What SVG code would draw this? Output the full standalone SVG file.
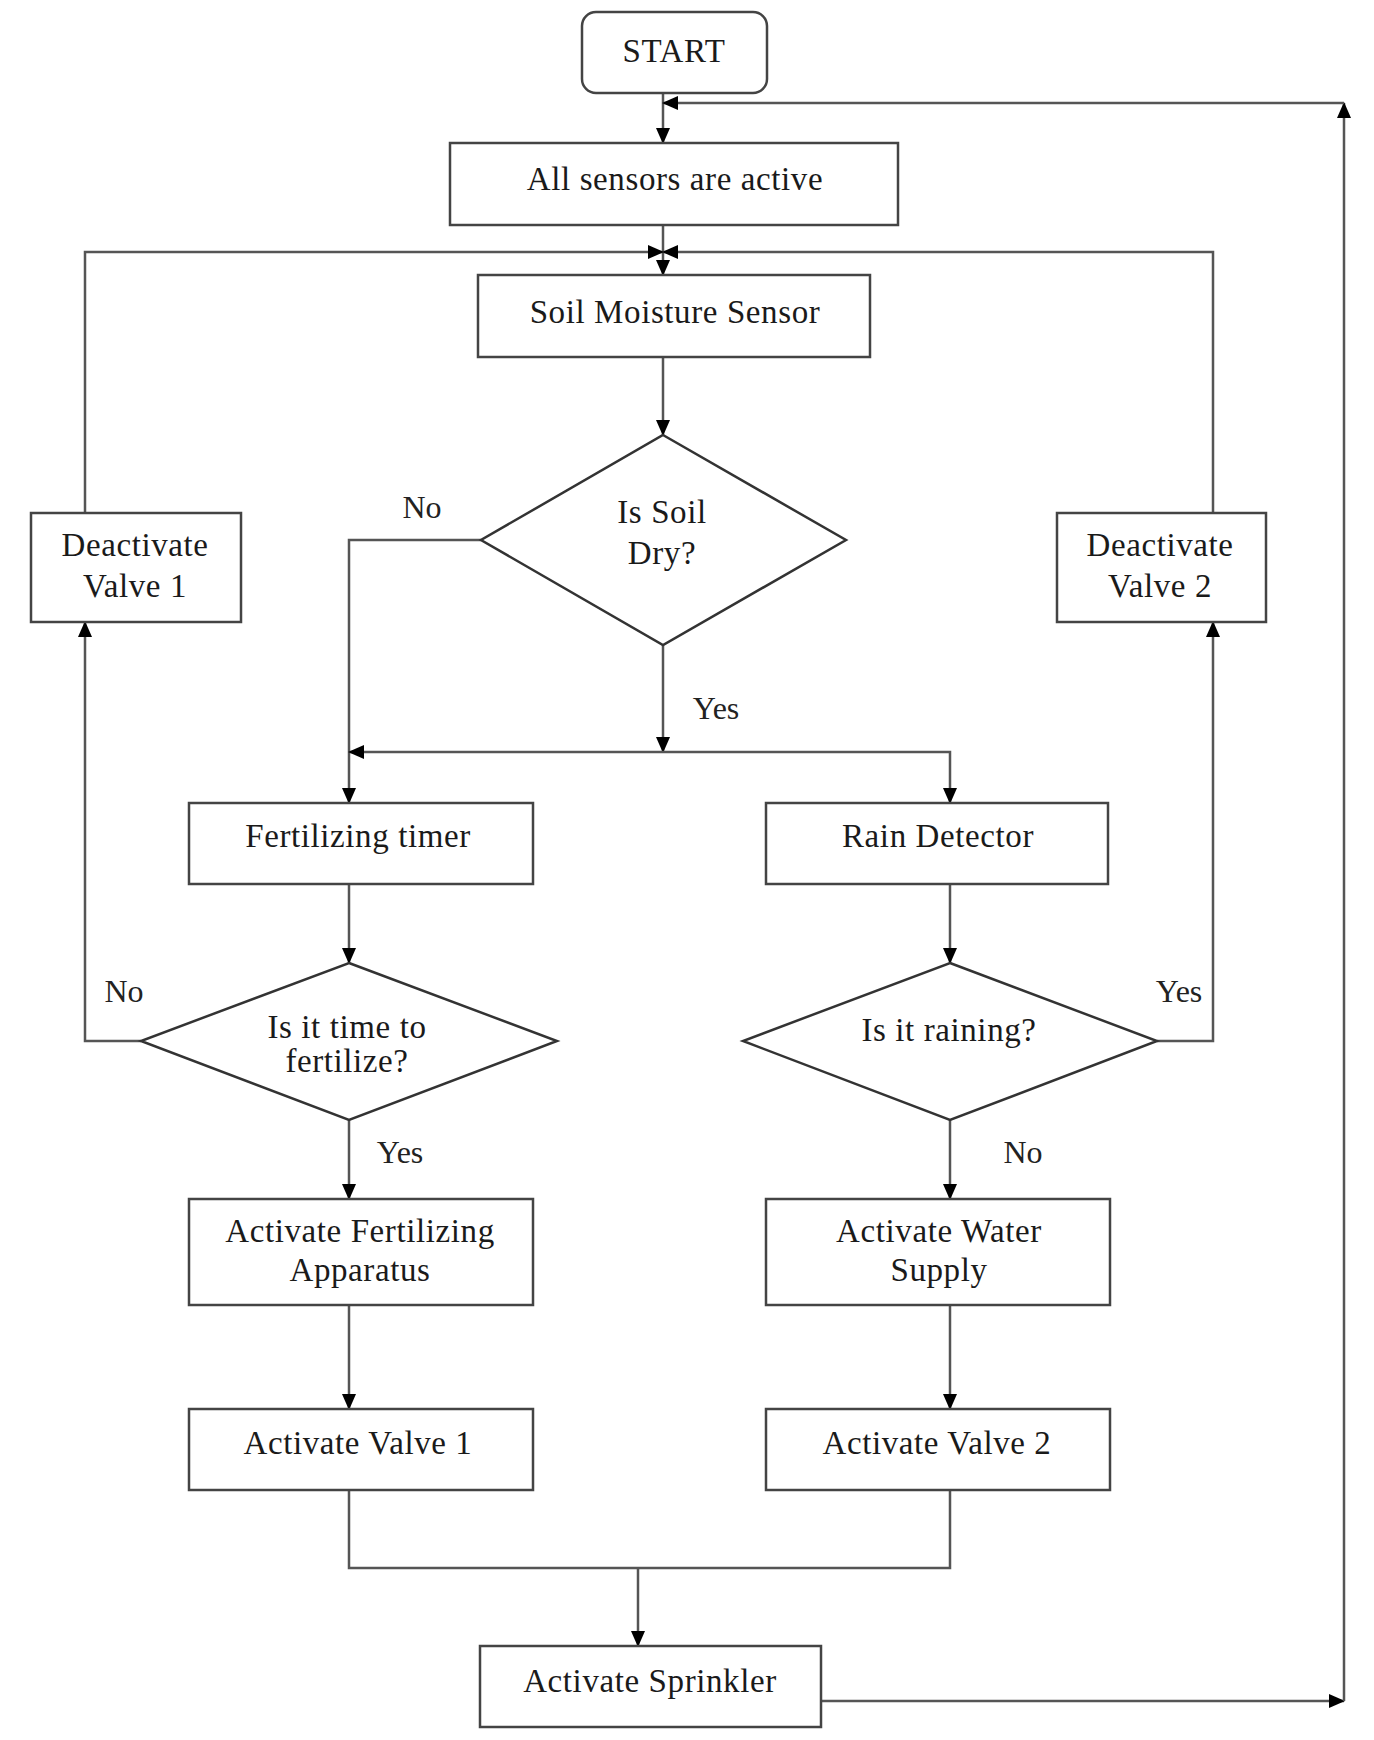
<svg xmlns="http://www.w3.org/2000/svg" width="1374" height="1740" viewBox="0 0 1374 1740">
  <style>
    .box { fill: #ffffff; stroke: #444444; stroke-width: 2.5; }
    .dia { fill: #ffffff; stroke: #333333; stroke-width: 2.5; }
    .wire { fill: none; stroke: #555555; stroke-width: 2.5; }
    .t { font-family: "Liberation Serif", "Times New Roman", serif; font-size: 33px; letter-spacing: 0.6px; fill: #1a1a1a; text-anchor: middle; }
    .lbl { font-family: "Liberation Serif", "Times New Roman", serif; font-size: 32px; fill: #222222; text-anchor: middle; }
  </style>
  <defs>
    <marker id="arrow" markerUnits="userSpaceOnUse" markerWidth="16" markerHeight="14" refX="15" refY="7" orient="auto">
      <path d="M0,0 L16,7 L0,14 Z" fill="#000000"/>
    </marker>
  </defs>
  <rect width="1374" height="1740" fill="#ffffff"/>

  <g id="connectors">
    <path class="wire" d="M663,93 V143" marker-end="url(#arrow)"/>
    <path class="wire" d="M822,1701 H1344" marker-end="url(#arrow)"/>
    <path class="wire" d="M1344,1701 V103" marker-end="url(#arrow)"/>
    <path class="wire" d="M1344,103 H663" marker-end="url(#arrow)"/>
    <path class="wire" d="M663,225 V275" marker-end="url(#arrow)"/>
    <path class="wire" d="M85,513 V252 H663" marker-end="url(#arrow)"/>
    <path class="wire" d="M1213,513 V252 H663" marker-end="url(#arrow)"/>
    <path class="wire" d="M663,357 V435" marker-end="url(#arrow)"/>
    <path class="wire" d="M481,540 H349 V803" marker-end="url(#arrow)"/>
    <path class="wire" d="M663,645 V752" marker-end="url(#arrow)"/>
    <path class="wire" d="M663,752 H349" marker-end="url(#arrow)"/>
    <path class="wire" d="M663,752 H950 V803" marker-end="url(#arrow)"/>
    <path class="wire" d="M349,884 V963" marker-end="url(#arrow)"/>
    <path class="wire" d="M950,884 V963" marker-end="url(#arrow)"/>
    <path class="wire" d="M141,1041 H85 V622" marker-end="url(#arrow)"/>
    <path class="wire" d="M1157,1041 H1213 V622" marker-end="url(#arrow)"/>
    <path class="wire" d="M349,1120 V1199" marker-end="url(#arrow)"/>
    <path class="wire" d="M950,1120 V1199" marker-end="url(#arrow)"/>
    <path class="wire" d="M349,1305 V1409" marker-end="url(#arrow)"/>
    <path class="wire" d="M950,1305 V1409" marker-end="url(#arrow)"/>
    <path class="wire" d="M349,1490 V1568 H950 V1490"/>
    <path class="wire" d="M638,1568 V1646" marker-end="url(#arrow)"/>
    <text class="lbl" x="422" y="518">No</text>
    <text class="lbl" x="716" y="719">Yes</text>
    <text class="lbl" x="124" y="1002">No</text>
    <text class="lbl" x="1179" y="1002">Yes</text>
    <text class="lbl" x="400" y="1163">Yes</text>
    <text class="lbl" x="1023" y="1163">No</text>
  </g>

  <g id="start">
    <rect class="box" x="582" y="12" width="185" height="81" rx="14"/>
    <text class="t" x="674" y="62">START</text>
  </g>
  <g id="sensors-active">
    <rect class="box" x="450" y="143" width="448" height="82"/>
    <text class="t" x="675" y="190">All sensors are active</text>
  </g>
  <g id="soil-moisture-sensor">
    <rect class="box" x="478" y="275" width="392" height="82"/>
    <text class="t" x="675" y="323">Soil Moisture Sensor</text>
  </g>
  <g id="is-soil-dry">
    <polygon class="dia" points="663,435 846,540 663,645 481,540"/>
    <text class="t" x="662" y="523">Is Soil</text>
    <text class="t" x="662" y="564">Dry?</text>
  </g>
  <g id="deactivate-valve-1">
    <rect class="box" x="31" y="513" width="210" height="109"/>
    <text class="t" x="135" y="556">Deactivate</text>
    <text class="t" x="135" y="597">Valve 1</text>
  </g>
  <g id="deactivate-valve-2">
    <rect class="box" x="1057" y="513" width="209" height="109"/>
    <text class="t" x="1160" y="556">Deactivate</text>
    <text class="t" x="1160" y="597">Valve 2</text>
  </g>
  <g id="fertilizing-timer">
    <rect class="box" x="189" y="803" width="344" height="81"/>
    <text class="t" x="358" y="847">Fertilizing timer</text>
  </g>
  <g id="rain-detector">
    <rect class="box" x="766" y="803" width="342" height="81"/>
    <text class="t" x="938" y="847">Rain Detector</text>
  </g>
  <g id="time-to-fertilize">
    <polygon class="dia" points="349,963 557,1041 349,1120 141,1041"/>
    <text class="t" x="347" y="1038">Is it time to</text>
    <text class="t" x="347" y="1072">fertilize?</text>
  </g>
  <g id="is-it-raining">
    <polygon class="dia" points="950,963 1157,1041 950,1120 743,1041"/>
    <text class="t" x="949" y="1041">Is it raining?</text>
  </g>
  <g id="activate-fertilizing-apparatus">
    <rect class="box" x="189" y="1199" width="344" height="106"/>
    <text class="t" x="360" y="1242">Activate Fertilizing</text>
    <text class="t" x="360" y="1281">Apparatus</text>
  </g>
  <g id="activate-water-supply">
    <rect class="box" x="766" y="1199" width="344" height="106"/>
    <text class="t" x="939" y="1242">Activate Water</text>
    <text class="t" x="939" y="1281">Supply</text>
  </g>
  <g id="activate-valve-1">
    <rect class="box" x="189" y="1409" width="344" height="81"/>
    <text class="t" x="358" y="1454">Activate Valve 1</text>
  </g>
  <g id="activate-valve-2">
    <rect class="box" x="766" y="1409" width="344" height="81"/>
    <text class="t" x="937" y="1454">Activate Valve 2</text>
  </g>
  <g id="activate-sprinkler">
    <rect class="box" x="480" y="1646" width="341" height="81"/>
    <text class="t" x="650" y="1692">Activate Sprinkler</text>
  </g>
</svg>
